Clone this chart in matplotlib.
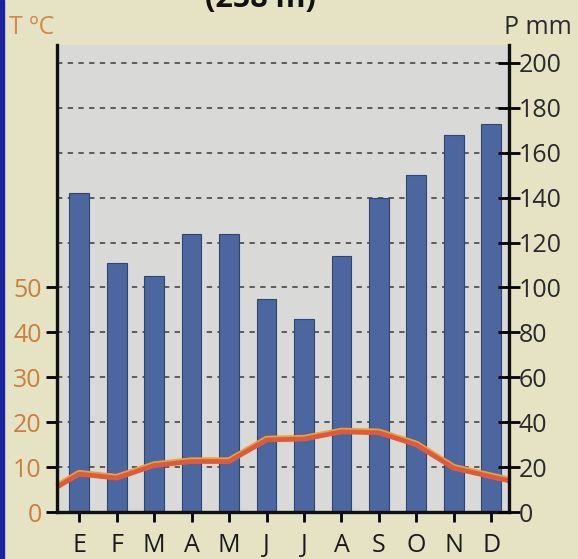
import matplotlib.pyplot as plt
import numpy as np

plt.rcParams['font.family'] = ['Open Sans', 'DejaVu Sans']

# climate data
months = ['E', 'F', 'M', 'A', 'M', 'J', 'J', 'A', 'S', 'O', 'N', 'D']
precip = [142, 111, 105, 124, 124, 95, 86, 114, 140, 150, 168, 173]   # mm
temp = [8.7, 7.8, 10.6, 11.5, 11.5, 16.3, 16.5, 18.1, 17.9, 15.2, 10.0, 8.1]  # C
temp_edges = [5.8, 7.2]   # line continues to the axis edges
t_ticks = [0, 10, 20, 30, 40, 50]
p_ticks = list(range(0, 201, 20))

W, H = 578, 559
fig = plt.figure(figsize=(W / 100, H / 100), dpi=100)
fig.patch.set_facecolor('#e6e3c5')

x0, x1, y0, y1 = 57, 509, 512, 45
ax = fig.add_axes([x0 / W, 1 - y0 / H, (x1 - x0) / W, (y0 - y1) / H])
ax.set_facecolor('#d9d9d7')

x = np.arange(len(months))
xmin, xmax = -0.59, 11.47
ax.set_xlim(xmin, xmax)
ax.set_ylim(0, 208)

# dashed grid behind bars
for p in p_ticks[1:]:
    ax.axhline(p, color='#3a3a3a', lw=1.1, ls=(0, (3.5, 3.5)), zorder=1)

ax.bar(x, precip, width=0.53, color='#4c67a0', edgecolor='#2f4570', linewidth=0.8, zorder=2)

# temperature plotted on P scale (T = P/2)
tx = np.concatenate([[xmin], x, [xmax]])
ty = np.array([temp_edges[0]] + temp + [temp_edges[1]]) * 2
ax.plot(tx, ty, color='#e8a040', lw=4.4, zorder=3, solid_capstyle='butt', clip_on=False)
ax.plot(tx, ty - 0.5, color='#de5a3a', lw=3.4, zorder=4, solid_capstyle='butt', clip_on=False)

ax.spines['top'].set_visible(False)
for s in ['left', 'right', 'bottom']:
    ax.spines[s].set_linewidth(2.4)
    ax.spines[s].set_color('#111111')
    ax.spines[s].set_zorder(5)

# month ticks
ax.set_xticks(x)
ax.set_xticklabels(months, fontsize=18, color='#1a1a1a')
ax.tick_params(axis='x', direction='out', length=7, width=2, pad=8)

# left: temperature labels
ax.set_yticks([t * 2 for t in t_ticks])
ax.set_yticklabels([str(t) for t in t_ticks], fontsize=18, color='#c8803c')
ax.tick_params(axis='y', direction='out', length=8, width=2, pad=3)

# right: precipitation
ax2 = ax.twinx()
ax2.set_ylim(ax.get_ylim())
ax2.set_yticks(p_ticks)
ax2.set_yticklabels([str(p) for p in p_ticks], fontsize=18, color='#2a2a2a')
ax2.tick_params(axis='y', direction='inout', length=16, width=2, pad=-1)
for s in ['top', 'left', 'bottom', 'right']:
    ax2.spines[s].set_visible(False)

fig.text(9 / W, 1 - 27 / H, 'T ºC', fontsize=18, color='#d38a4c', va='center', ha='left')
fig.text(572 / W, 1 - 27 / H, 'P mm', fontsize=18, color='#2a2a2a', va='center', ha='right')
# title is partly cut off at the top edge, as in the reference
fig.text(260 / W, 1 - 7 / H, '(258 m)', fontsize=22, fontweight='bold', color='#111111',
         va='baseline', ha='center')

# blue border on the left edge
fig.patches.append(plt.Rectangle((0, 0), 4 / W, 1, transform=fig.transFigure,
                                 color='#1a22a0', zorder=10))

fig.savefig('out.png', dpi=100, facecolor=fig.get_facecolor())
